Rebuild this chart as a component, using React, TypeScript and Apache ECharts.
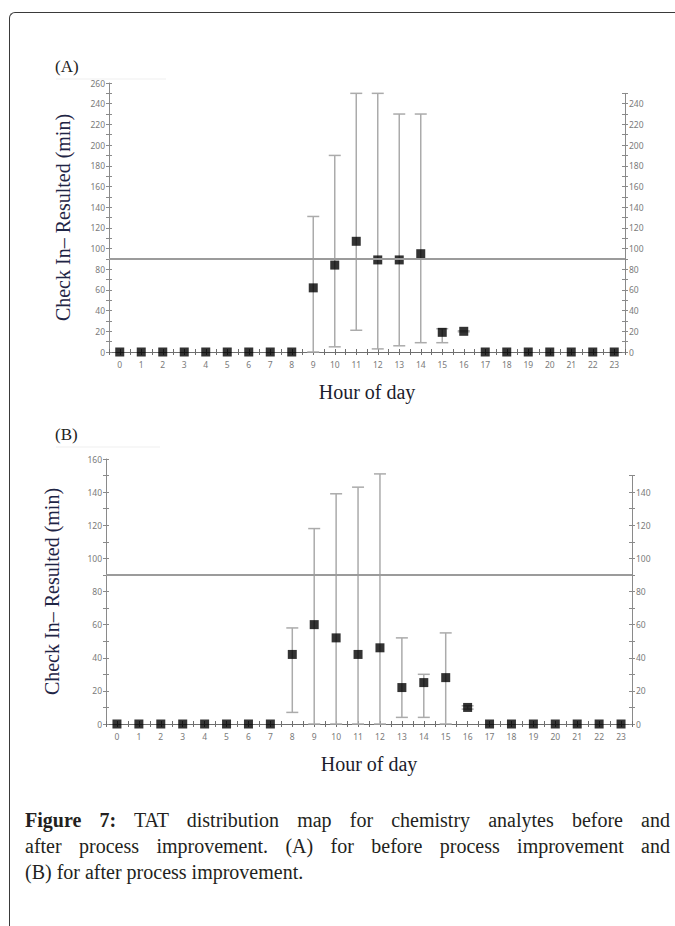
import React, { useEffect, useRef } from "react";
import * as echarts from "echarts";

// ---------- data ----------
const hours = [0, 1, 2, 3, 4, 5, 6, 7, 8, 9, 10, 11, 12, 13, 14, 15, 16, 17, 18, 19, 20, 21, 22, 23];

// (A) before process improvement
const meanA = [0, 0, 0, 0, 0, 0, 0, 0, 0, 62, 84, 107, 89, 89, 95, 19, 20, 0, 0, 0, 0, 0, 0, 0];
const lowA = [null, null, null, null, null, null, null, null, null, 0, 5, 21, 3, 6, 9, 9, 19.5, null, null, null, null, null, null, null];
const highA = [null, null, null, null, null, null, null, null, null, 131, 190, 250, 250, 230, 230, 22.5, 20.5, null, null, null, null, null, null, null];

// (B) after process improvement
const meanB = [0, 0, 0, 0, 0, 0, 0, 0, 42, 60, 52, 42, 46, 22, 25, 28, 10, 0, 0, 0, 0, 0, 0, 0];
const lowB = [null, null, null, null, null, null, null, null, 7, 0, 0, 0, 0, 4, 4, 0, 9, null, null, null, null, null, null, null];
const highB = [null, null, null, null, null, null, null, null, 58, 118, 139, 143, 151, 52, 30, 55, 11, null, null, null, null, null, null, null];

const thresholdMinutes = 90;

// tick labels
const yLabelsLeftA = [0, 20, 40, 60, 80, 100, 120, 140, 160, 180, 200, 220, 240, 260];
const yLabelsRightA = [0, 20, 40, 60, 80, 100, 120, 140, 160, 180, 200, 220, 240];
const yLabelsLeftB = [0, 20, 40, 60, 80, 100, 120, 140, 160];
const yLabelsRightB = [0, 20, 40, 60, 80, 100, 120, 140];

const yTitle = "Check In\u2013 Resulted (min)";
const xTitle = "Hour of day";

// ---------- layout ----------
const AXIS_COLOR = "#8a8a8a";
const LABEL_COLOR = "#7a7a7a";
const BAR_COLOR = "#ababab";
const SERIF = "'Liberation Serif', 'Times New Roman', serif";
const SANS = "'Noto Sans', 'Open Sans', sans-serif";

type Panel = {
  left: number; right: number; top: number; bottom: number;
  leftMax: number; rightMax: number;
  leftLabels: number[]; rightLabels: number[];
  mean: number[]; low: (number | null)[]; high: (number | null)[];
  nameGapY: number; nameGapX: number;
};

const panels: Panel[] = [
  {
    left: 109, right: 625, top: 83, bottom: 352, leftMax: 260, rightMax: 250,
    leftLabels: yLabelsLeftA, rightLabels: yLabelsRightA,
    mean: meanA, low: lowA, high: highA, nameGapY: 36, nameGapX: 30,
  },
  {
    left: 106, right: 632, top: 459, bottom: 724, leftMax: 160, rightMax: 150,
    leftLabels: yLabelsLeftB, rightLabels: yLabelsRightB,
    mean: meanB, low: lowB, high: highB, nameGapY: 44, nameGapX: 30,
  },
];

function buildOption() {
  const grid: any[] = [];
  const xAxis: any[] = [];
  const yAxis: any[] = [];
  const series: any[] = [];

  panels.forEach((p) => {
    const base = grid.length;
    const width = p.right - p.left;
    const height = p.bottom - p.top;
    const pxPerUnit = height / p.leftMax;
    const rightHeight = p.rightMax * pxPerUnit;
    // 0 main, 1 inside ticks, 2 right axis, 3 right inside ticks
    grid.push({ left: p.left, top: p.top, width, height, containLabel: false });
    grid.push({ left: p.left, top: p.top, width, height, containLabel: false });
    grid.push({ left: p.left, top: p.bottom - rightHeight, width, height: rightHeight, containLabel: false });
    grid.push({ left: p.left, top: p.bottom - rightHeight, width, height: rightHeight, containLabel: false });

    const xCommon = { type: "value", min: -0.5, max: 23.5, interval: 0.5 };
    xAxis.push({
      ...xCommon, gridIndex: base, position: "bottom",
      name: xTitle, nameLocation: "middle", nameGap: p.nameGapX,
      nameTextStyle: { fontFamily: SERIF, fontSize: 20, color: "#1c1c2c" },
      axisLine: { show: true, onZero: false, lineStyle: { color: "#6e6e6e", width: 1 } },
      axisTick: { show: true, inside: false, length: 3, lineStyle: { color: "#6e6e6e" } },
      axisLabel: {
        show: true, margin: 8, fontSize: 8.5, color: LABEL_COLOR, fontFamily: SANS,
        formatter: (v: number) => (hours.includes(v) ? String(v) : ""),
      },
      splitLine: { show: false },
    });
    xAxis.push({
      ...xCommon, gridIndex: base + 1, position: "bottom",
      axisLine: { show: false, onZero: false },
      axisTick: { show: true, inside: true, length: 3, lineStyle: { color: "#6e6e6e" } },
      axisLabel: { show: false }, splitLine: { show: false },
    });
    xAxis.push({ ...xCommon, gridIndex: base + 2, show: false });
    xAxis.push({ ...xCommon, gridIndex: base + 3, show: false });

    const yDef = (gi: number, max: number, position: string, inside: boolean, labels: number[], withName: boolean) => ({
      type: "value", gridIndex: gi, min: 0, max, interval: 10, position,
      name: withName ? yTitle : "",
      nameLocation: "middle", nameRotate: 90, nameGap: p.nameGapY,
      nameTextStyle: { fontFamily: SERIF, fontSize: 20, color: "#1f2545" },
      axisLine: { show: !inside, onZero: false, lineStyle: { color: AXIS_COLOR, width: 1 } },
      axisTick: { show: true, inside, length: 3, lineStyle: { color: AXIS_COLOR } },
      axisLabel: {
        show: !inside, margin: 4, fontSize: 8.5, color: LABEL_COLOR, fontFamily: SANS,
        formatter: (v: number) => (labels.includes(v) ? String(v) : ""),
      },
      splitLine: { show: false },
    });
    yAxis.push(yDef(base, p.leftMax, "left", false, p.leftLabels, true));
    yAxis.push(yDef(base + 1, p.leftMax, "left", true, p.leftLabels, false));
    yAxis.push(yDef(base + 2, p.rightMax, "right", false, p.rightLabels, false));
    yAxis.push(yDef(base + 3, p.rightMax, "right", true, p.rightLabels, false));

    // threshold line
    series.push({
      type: "line", xAxisIndex: base, yAxisIndex: base, data: [], z: 1, silent: true,
      markLine: {
        silent: true, symbol: "none", label: { show: false },
        lineStyle: { color: "#9b9b9b", width: 2, type: "solid" },
        data: [{ yAxis: thresholdMinutes }],
      },
    });

    // error bars
    const errData = hours
      .map((h, i) => (p.low[i] != null && p.high[i] != null ? [h, p.low[i], p.high[i]] : null))
      .filter((d) => d !== null);
    series.push({
      type: "custom", xAxisIndex: base, yAxisIndex: base, z: 2, silent: true, clip: false,
      data: errData,
      encode: { x: 0, y: [1, 2] },
      renderItem: (params: any, api: any) => {
        const x = api.value(0);
        const pLo = api.coord([x, api.value(1)]);
        const pHi = api.coord([x, api.value(2)]);
        const hw = 6;
        const style = { stroke: BAR_COLOR, lineWidth: 1.5 };
        return {
          type: "group",
          children: [
            { type: "line", shape: { x1: pHi[0], y1: pHi[1], x2: pLo[0], y2: pLo[1] }, style },
            { type: "line", shape: { x1: pHi[0] - hw, y1: pHi[1], x2: pHi[0] + hw, y2: pHi[1] }, style },
            { type: "line", shape: { x1: pLo[0] - hw, y1: pLo[1], x2: pLo[0] + hw, y2: pLo[1] }, style },
          ],
        };
      },
    });

    // means
    series.push({
      type: "scatter", xAxisIndex: base, yAxisIndex: base, z: 3, clip: false, silent: true,
      symbol: "rect", symbolSize: 9, itemStyle: { color: "#000" },
      data: hours.map((h, i) => [h, p.mean[i]]),
    });
  });

  return {
    animation: false,
    grid, xAxis, yAxis, series,
    graphic: [
      { type: "text", left: 55, top: 58, style: { text: "(A)", font: `17px ${SERIF}`, fill: "#222" } },
      { type: "line", shape: { x1: 56, y1: 79, x2: 166, y2: 79 }, style: { stroke: "#efefef", lineWidth: 1 } },
      { type: "text", left: 55, top: 426, style: { text: "(B)", font: `17px ${SERIF}`, fill: "#222" } },
      { type: "line", shape: { x1: 56, y1: 447, x2: 160, y2: 447 }, style: { stroke: "#efefef", lineWidth: 1 } },
    ],
  };
}

export default function App() {
  const ref = useRef<HTMLDivElement>(null);
  useEffect(() => {
    if (!ref.current) return;
    const chart = echarts.init(ref.current, null, { renderer: "svg" });
    chart.setOption(buildOption() as any);
    return () => chart.dispose();
  }, []);

  return (
    <div style={{ position: "absolute", left: 0, top: 0, width: 675, height: 926, background: "#fff", overflow: "hidden" }}>
      <div
        style={{
          position: "absolute", left: 9, top: 12, width: 700, height: 940,
          borderTop: "1.5px solid #3a3a3a", borderLeft: "1.5px solid #3a3a3a", borderTopLeftRadius: 6,
        }}
      />
      <div ref={ref} style={{ position: "absolute", left: 0, top: 0, width: 675, height: 790 }} />
      <div
        style={{
          position: "absolute", left: 25, top: 807, width: 645,
          fontFamily: SERIF, fontSize: 20, lineHeight: "26px", color: "#231f20",
        }}
      >
        <div style={{ textAlign: "justify", textAlignLast: "justify" as any }}>
          <b>Figure 7:</b> TAT distribution map for chemistry analytes before and
        </div>
        <div style={{ textAlign: "justify", textAlignLast: "justify" as any }}>
          after process improvement. (A) for before process improvement and
        </div>
        <div>(B) for after process improvement.</div>
      </div>
    </div>
  );
}
